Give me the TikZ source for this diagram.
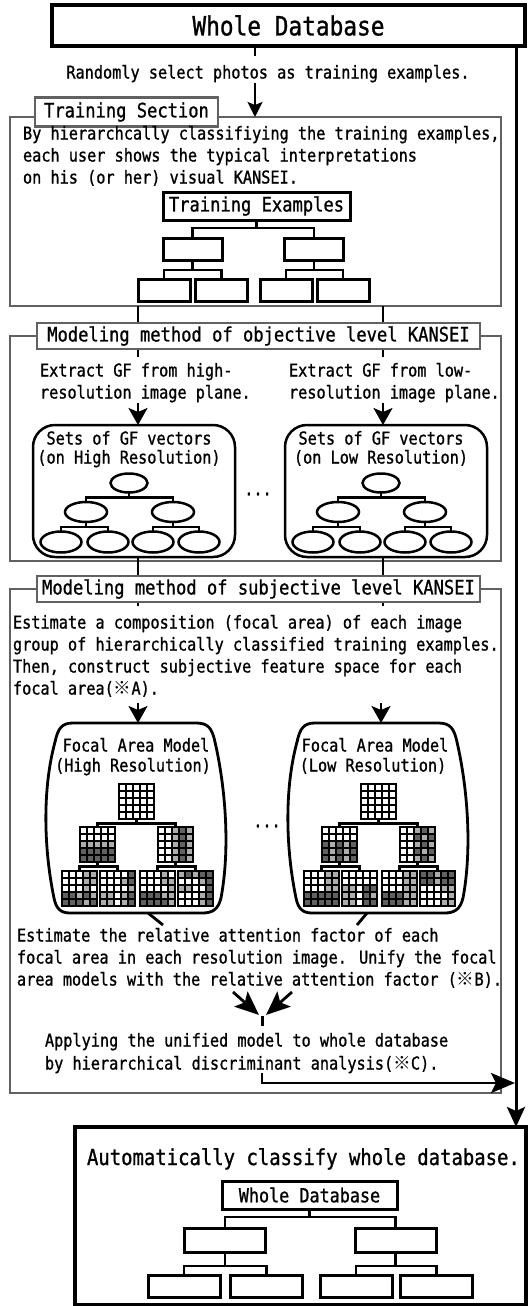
\documentclass[tikz,border=0pt]{standalone}
\usepackage{fontspec}
\setmainfont{DejaVu Sans Mono}[FakeStretch=0.86,FakeBold=1]
\newfontfamily\cjkfont{Noto Sans CJK JP}
\usetikzlibrary{arrows.meta,shapes.geometric}
\colorlet{c0}{white}
\colorlet{c1}{black!32}
\colorlet{c2}{black!62}
\newcommand\fbody{\fontsize{17.7}{22}\selectfont}
\newcommand\flabel{\fontsize{19.9}{24}\selectfont}
\newcommand\fbig{\fontsize{22}{26}\selectfont}
\newcommand\ftitle{\fontsize{26.5}{30}\selectfont}
\newcommand\fsmall{\fontsize{19.5}{23}\selectfont}
\newcommand\refmk{{\cjkfont ※}}
\newcommand\fagrid[4]{%
  \foreach \fgv [count=\fgi from 0] in {#4} {%
    \pgfmathtruncatemacro\fgr{div(\fgi,5)}%
    \pgfmathtruncatemacro\fgc{mod(\fgi,5)}%
    \fill[fill=c\fgv] ({#2+7*\fgc},{#3+7*\fgr}) rectangle ++(7,7);
  }%
  \foreach \fgk in {1,2,3,4} {%
    \draw[gridline] ({#2+7*\fgk},#3) -- ++(0,35);
    \draw[gridline] (#2,{#3+7*\fgk}) -- ++(35,0);
  }%
  \node[gridbox] (#1) at ({#2+17.5},{#3+17.5}) {};
}
\begin{document}
\begin{tikzpicture}[x=1pt,y=-1pt,
  every node/.style={inner sep=0pt, outer sep=0pt},
  txt/.style={anchor=base west, font=\fbody},
  ctxt/.style={anchor=base, font=\fbody},
  frame/.style={draw=black!62, line width=2.6pt},
  lab/.style={draw=black!62, line width=2.6pt, fill=white, font=\flabel},
  tbox/.style={draw, line width=3pt},
  conn/.style={line width=2.4pt},
  arrsm/.style={line width=2.6pt, -{Stealth[length=15pt,width=15pt,inset=3pt]}},
  arr/.style={line width=2.6pt, -{Stealth[length=17pt,width=19pt,inset=4pt]}},
  arrbig/.style={line width=2.8pt, -{Stealth[length=24pt,width=20pt,inset=5pt]}},
  ell/.style={ellipse, draw, line width=2.5pt},
  gridline/.style={line width=1.2pt},
  gridbox/.style={draw, line width=1.8pt, minimum size=35pt},
  bubble/.style={draw, line width=2.8pt},
]
\useasboundingbox (0,0) rectangle (529,1306);
\fill[white] (0,0) rectangle (529,1306);

\coordinate (ax) at (255,0);
\coordinate (lx) at (138,0);
\coordinate (rx) at (383,0);
\coordinate (vx) at (516,0);

% frames
\node[frame, minimum width=491pt, minimum height=189pt] (train) at (255.5,211.5) {};
\node[frame, minimum width=491pt, minimum height=225pt] (obj) at (255.5,448.5) {};
\node[frame, minimum width=491pt, minimum height=504pt] (subj) at (255.5,841) {};

% top
\node[tbox, line width=3.2pt, minimum width=473pt, minimum height=41pt, font=\ftitle] (db) at (288.5,25.5) {Whole Database};
\node[ctxt] (rand) at (268,78.5) {Randomly select photos as training examples.};
\draw[conn] (db.south -| ax) -- ++(0,10);
\coordinate (a1s) at (255,83);
\draw[arrsm] (a1s) -- (train.north -| ax);

% training section
\node[lab, minimum width=183pt, minimum height=29pt] (trainlab) at (126.5,112) {Training Section};
\node[txt] (tr1) at (23,139.5) {By hierarchcally classifiying the training examples,};
\node[txt] (tr2) at (23,161.5) {each user shows the typical interpretations};
\node[txt] (tr3) at (23,183.5) {on his (or her) visual KANSEI.};
\node[tbox, minimum width=187pt, minimum height=28pt, font=\flabel] (te) at (256.5,206) {Training Examples};
\node[tbox, minimum width=59pt, minimum height=22pt] (t1) at (192.5,249) {};
\node[tbox, minimum width=59pt, minimum height=22pt] (t2) at (314,249) {};
\node[tbox, minimum width=52pt, minimum height=22pt] (t11) at (164,290) {};
\node[tbox, minimum width=52pt, minimum height=22pt] (t12) at (221.5,290) {};
\node[tbox, minimum width=52pt, minimum height=22pt] (t21) at (286,290) {};
\node[tbox, minimum width=52pt, minimum height=22pt] (t22) at (343,290) {};
\draw[conn] (te.south) -- ++(0,8) -| (t1.north);
\draw[conn] (te.south) -- ++(0,8) -| (t2.north);
\draw[conn] (t1.south) -- ++(0,10) -| (t11.north);
\draw[conn] (t1.south) -- ++(0,10) -| (t12.north);
\draw[conn] (t2.south) -- ++(0,10) -| (t21.north);
\draw[conn] (t2.south) -- ++(0,10) -| (t22.north);

% objective section
\draw[conn] (train.south -| lx) -- ++(0,51);
\draw[conn] (train.south -| rx) -- ++(0,51);
\node[lab, minimum width=443pt, minimum height=26pt] (objlab) at (258.5,336) {Modeling method of objective level KANSEI};
\node[txt] (ol1) at (40,376.5) {Extract GF from high-};
\node[txt] (ol2) at (40,398.5) {resolution image plane.};
\node[txt] (or1) at (289,376.5) {Extract GF from low-};
\node[txt] (or2) at (289,398.5) {resolution image plane.};
\node[draw, line width=2.5pt, rounded corners=22pt, minimum width=202pt, minimum height=132pt] (gfl) at (134,491) {};
\node[draw, line width=2.5pt, rounded corners=22pt, minimum width=202pt, minimum height=132pt] (gfr) at (386,491) {};
\coordinate (a2l) at (138,403);
\coordinate (a2r) at (383,403);
\draw[arr] (a2l) -- (gfl.north -| lx);
\draw[arr] (a2r) -- (gfr.north -| rx);
\node[ctxt] (gfl1) at (129,444.5) {Sets of GF vectors};
\node[ctxt] (gfl2) at (129,463.5) {(on High Resolution)};
\node[ctxt] (gfr1) at (381,444.5) {Sets of GF vectors};
\node[ctxt] (gfr2) at (381,463.5) {(on Low Resolution)};
% ellipse trees
\node[ell, minimum width=37pt, minimum height=19pt] (el0) at (129,483) {};
\node[ell, minimum width=42pt, minimum height=20pt] (el1) at (86,512) {};
\node[ell, minimum width=42pt, minimum height=20pt] (el2) at (173,512) {};
\node[ell, minimum width=41pt, minimum height=21pt] (el11) at (61,542) {};
\node[ell, minimum width=41pt, minimum height=21pt] (el12) at (108,542) {};
\node[ell, minimum width=41pt, minimum height=21pt] (el21) at (153,542) {};
\node[ell, minimum width=41pt, minimum height=21pt] (el22) at (199,542) {};
\node[ell, minimum width=37pt, minimum height=19pt] (er0) at (381,483) {};
\node[ell, minimum width=42pt, minimum height=20pt] (er1) at (338,512) {};
\node[ell, minimum width=42pt, minimum height=20pt] (er2) at (425,512) {};
\node[ell, minimum width=41pt, minimum height=21pt] (er11) at (313,542) {};
\node[ell, minimum width=41pt, minimum height=21pt] (er12) at (360,542) {};
\node[ell, minimum width=41pt, minimum height=21pt] (er21) at (405,542) {};
\node[ell, minimum width=41pt, minimum height=21pt] (er22) at (451,542) {};
\foreach \p/\a/\b in {el0/el1/el2, el1/el11/el12, el2/el21/el22, er0/er1/er2, er1/er11/er12, er2/er21/er22} {
  \draw[conn] (\p.south) -- ++(0,5) -| (\a.north);
  \draw[conn] (\p.south) -- ++(0,5) -| (\b.north);
}
\node[font=\fbody] (dots1) at (258,494) {...};

% subjective section
\draw[conn] (gfl.south -| lx) -- ++(0,49);
\draw[conn] (gfr.south -| rx) -- ++(0,49);
\node[lab, minimum width=443pt, minimum height=26pt] (sublab) at (258.5,589) {Modeling method of subjective level KANSEI};
\node[txt] (s1) at (13,628.5) {Estimate a composition (focal area) of each image};
\node[txt] (s2) at (13,650.5) {group of hierarchically classified training examples.};
\node[txt] (s3) at (13,672.5) {Then, construct subjective feature space for each};
\node[txt] (s4) at (13,694.5) {focal area(\refmk A).};
\coordinate (a3l) at (138,703);
\coordinate (a3r) at (381,703);
\coordinate (fal) at (138,723);
\coordinate (far) at (381,723);
\draw[arr] (a3l) -- (fal);
\draw[arr] (a3r) -- (far);
% bubbles
\draw[bubble] (73,723) -- (196,723) .. controls (208,723) and (212,728) .. (215,742)
  .. controls (226,790) and (230,850) .. (221,898)
  .. controls (218,910) and (212,913) .. (202,913) -- (70,913)
  .. controls (60,913) and (56,908) .. (54,898)
  .. controls (44,850) and (42,790) .. (55,742)
  .. controls (58,728) and (62,723) .. (73,723) -- cycle;
\draw[bubble, xshift=242pt] (73,723) -- (196,723) .. controls (208,723) and (212,728) .. (215,742)
  .. controls (226,790) and (230,850) .. (221,898)
  .. controls (218,910) and (212,913) .. (202,913) -- (70,913)
  .. controls (60,913) and (56,908) .. (54,898)
  .. controls (44,850) and (42,790) .. (55,742)
  .. controls (58,728) and (62,723) .. (73,723) -- cycle;
\coordinate (tl1) at (148,913);
\coordinate (tl2) at (163,925);
\coordinate (tr1c) at (367,913);
\coordinate (tr2c) at (357,925);
\draw[bubble] (tl1) -- (tl2);
\draw[bubble] (tr1c) -- (tr2c);
\node[ctxt] (fl1) at (136,751.5) {Focal Area Model};
\node[ctxt] (fl2) at (133,771.5) {(High Resolution)};
\node[ctxt] (fr1) at (375,751.5) {Focal Area Model};
\node[ctxt] (fr2) at (373,771.5) {(Low Resolution)};
% grids left
\fagrid{gA0}{119}{784}{0,0,0,0,0,0,0,0,0,0,0,0,0,0,0,0,0,0,0,0,0,0,0,0,0}
\fagrid{gA1}{80}{827}{0,0,0,0,0,0,0,0,0,0,1,1,1,1,1,2,2,2,2,2,2,2,2,2,2}
\fagrid{gA2}{158}{827}{0,0,1,2,1,0,0,1,2,1,0,0,1,2,1,0,0,1,2,1,0,0,1,2,1}
\fagrid{gA3}{62}{871}{0,0,0,1,1,0,0,0,1,1,0,0,0,1,0,2,2,1,2,1,2,2,2,1,2}
\fagrid{gA4}{100}{871}{0,0,0,0,2,0,0,0,1,2,0,0,0,0,1,1,1,0,1,2,1,1,0,1,2}
\fagrid{gA5}{140}{871}{0,0,0,1,0,0,0,0,1,1,0,0,0,0,1,2,2,2,1,1,2,2,2,2,1}
\fagrid{gA6}{178}{871}{1,2,1,2,2,0,0,0,1,2,1,1,0,0,2,0,0,0,1,2,0,0,0,1,2}
% grids right
\fagrid{gB0}{361}{784}{0,0,0,0,0,0,0,0,0,0,0,0,0,0,0,0,0,0,0,0,0,0,0,0,0}
\fagrid{gB1}{322}{827}{0,0,0,0,0,0,0,0,0,0,2,1,2,1,2,2,1,2,1,2,2,1,2,1,2}
\fagrid{gB2}{400}{827}{0,0,1,2,1,0,0,2,1,2,0,0,1,2,1,0,0,2,1,2,0,0,1,2,1}
\fagrid{gB3}{304}{871}{0,0,0,1,1,0,0,0,1,1,0,0,0,1,1,2,2,2,2,2,2,2,2,2,2}
\fagrid{gB4}{342}{871}{0,0,0,0,0,0,0,0,0,0,1,1,0,2,2,1,1,0,2,1,1,1,0,2,2}
\fagrid{gB5}{382}{871}{0,0,0,1,1,0,0,0,1,1,0,0,0,1,1,2,2,2,1,1,2,2,2,1,1}
\fagrid{gB6}{420}{871}{2,2,1,2,2,2,2,1,2,2,0,0,0,1,1,0,0,0,0,1,0,0,0,1,1}
\foreach \p/\a/\b in {gA0/gA1/gA2, gA1/gA3/gA4, gA2/gA5/gA6, gB0/gB1/gB2, gB1/gB3/gB4, gB2/gB5/gB6} {
  \draw[conn] (\p.south) -- ++(0,4.5) -| (\a.north);
  \draw[conn] (\p.south) -- ++(0,4.5) -| (\b.north);
}
\node[font=\fbody] (dots2) at (267,826) {...};

% lower texts
\node[txt] (u1) at (17,941.5) {Estimate the relative attention factor of each};
\node[txt] (u2) at (17,963.5) {focal area in each resolution image. Unify the focal};
\node[txt] (u3) at (17,985.5) {area models with the relative attention factor (\refmk B).};
\coordinate (cv1) at (233,992);
\coordinate (cv2) at (292,992);
\coordinate (cvl) at (259,1015);
\coordinate (cvr) at (266,1015);
\draw[arrbig] (cv1) -- (cvl);
\draw[arrbig] (cv2) -- (cvr);
\coordinate (st1) at (262.5,1016);
\coordinate (st2) at (262.5,1026);
\draw[conn] (st1) -- (st2);
\node[txt] (ap1) at (45,1046.5) {Applying the unified model to whole database};
\node[txt] (ap2) at (45,1069.5) {by hierarchical discriminant analysis(\refmk C).};

% bottom box
\node[tbox, line width=3.2pt, minimum width=451pt, minimum height=178pt] (auto) at (300.5,1216) {};
\node[anchor=base west, font=\fbig] (autot) at (87,1165) {Automatically classify whole database.};
\node[tbox, minimum width=175pt, minimum height=28pt, font=\fsmall] (wdb) at (309.5,1195) {Whole Database};
\node[tbox, minimum width=81pt, minimum height=24pt] (b1) at (225,1240) {};
\node[tbox, minimum width=81pt, minimum height=24pt] (b2) at (395.5,1240) {};
\node[tbox, minimum width=72pt, minimum height=22pt] (b11) at (184,1286) {};
\node[tbox, minimum width=72pt, minimum height=22pt] (b12) at (266.5,1286) {};
\node[tbox, minimum width=72pt, minimum height=22pt] (b21) at (356,1286) {};
\node[tbox, minimum width=72pt, minimum height=22pt] (b22) at (436.5,1286) {};
\draw[conn] (wdb.south) -- ++(0,8) -| (b1.north);
\draw[conn] (wdb.south) -- ++(0,8) -| (b2.north);
\draw[conn] (b1.south) -- ++(0,14) -| (b11.north);
\draw[conn] (b1.south) -- ++(0,14) -| (b12.north);
\draw[conn] (b2.south) -- ++(0,14) -| (b21.north);
\draw[conn] (b2.south) -- ++(0,14) -| (b22.north);

% right spine and joins
\coordinate (ap) at (262,1073);
\coordinate (join) at (515,1083);
\draw[arrbig] (ap) |- (join);
\draw[line width=3pt, -{Stealth[length=20pt,width=18pt,inset=4pt]}] (db.south -| vx) -- (auto.north -| vx);
\end{tikzpicture}
\end{document}
